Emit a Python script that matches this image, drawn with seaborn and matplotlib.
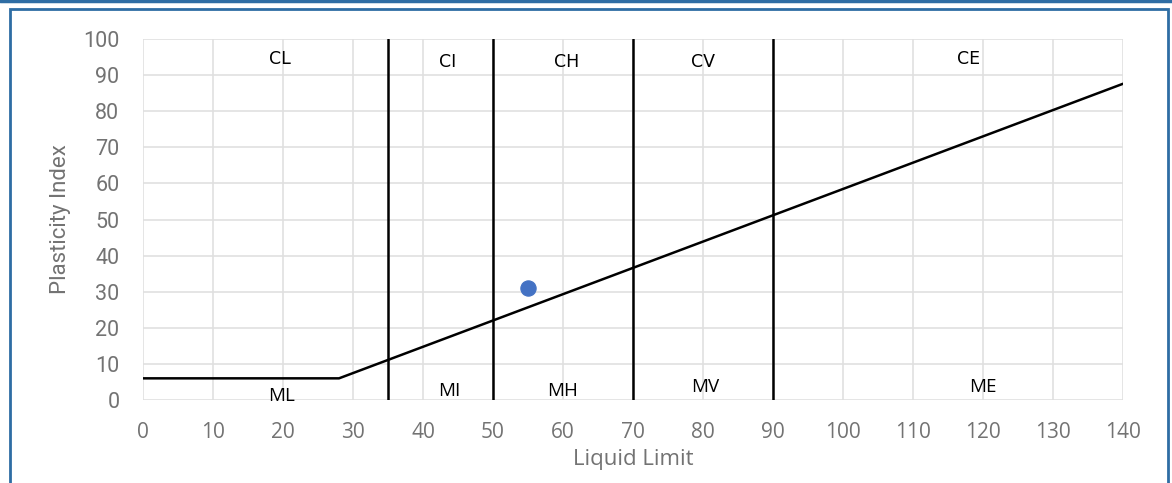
import numpy as np
import pandas as pd
import seaborn as sns
import matplotlib.pyplot as plt
from matplotlib.patches import Rectangle
from matplotlib.lines import Line2D

# A-line
a_line_ll = [0, 28, 140]
a_line_pi = [6, 6, 87.6]

# boundaries between low / intermediate / high / very high / extremely high
boundaries = [35, 50, 70, 90]

# sample point
sample_ll = [55]
sample_pi = [31]

# zone labels
upper_labels = ['CL', 'CI', 'CH', 'CV', 'CE']
upper_x = [19.5, 43.5, 60.5, 80, 118]
upper_y = [94.5, 93.5, 93.5, 93.5, 94.5]
lower_labels = ['ML', 'MI', 'MH', 'MV', 'ME']
lower_x = [19.8, 43.7, 60, 80.3, 120]
lower_y = [1.2, 2.5, 2.5, 3.5, 3.5]

sns.set_theme(style='whitegrid')
plt.rcParams['font.family'] = ['Open Sans', 'DejaVu Sans']

fig = plt.figure(figsize=(11.72, 4.83), dpi=100)
ax = fig.add_axes([143 / 1172, 1 - 400 / 483, 980 / 1172, 361 / 483])

line_df = pd.DataFrame({'LL': a_line_ll, 'PI': a_line_pi})
sns.lineplot(data=line_df, x='LL', y='PI', color='black', linewidth=1.8, ax=ax, sort=False)
for b in boundaries:
    ax.axvline(b, color='black', linewidth=1.8, ymin=0, ymax=1)
pt_df = pd.DataFrame({'LL': sample_ll, 'PI': sample_pi})
sns.scatterplot(data=pt_df, x='LL', y='PI', color='#4472C4', s=120, edgecolor='#4472C4', ax=ax, zorder=5)

for t, x, y in zip(upper_labels, upper_x, upper_y):
    ax.text(x, y, t, ha='center', va='center', fontsize=12.5, color='black',
            family=['Liberation Sans Narrow', 'DejaVu Sans Condensed', 'DejaVu Sans'])
for t, x, y in zip(lower_labels, lower_x, lower_y):
    ax.text(x, y, t, ha='center', va='center', fontsize=13.5, color='black',
            family=['Open Sans', 'DejaVu Sans'])

ax.set_xlim(0, 140)
ax.set_ylim(0, 100)
ax.set_xticks(np.arange(0, 141, 10))
ax.set_yticks(np.arange(0, 101, 10))
ax.grid(True, color='#e0e0e0', linewidth=1.2)
for s in ax.spines.values():
    s.set_visible(False)
gray = '#737373'
ax.tick_params(axis='x', colors=gray, labelsize=15, length=0, pad=16)
ax.tick_params(axis='y', colors=gray, labelsize=15.5, length=0, pad=17)
for lab in ax.get_yticklabels():
    lab.set_family(['Roboto', 'DejaVu Sans'])
ax.set_xlabel('Liquid Limit', fontsize=16, color=gray, labelpad=4)
ax.set_ylabel('Plasticity Index', fontsize=16, color=gray, labelpad=9,
              family=['Roboto', 'DejaVu Sans'])

# blue frame around the chart
fig.add_artist(Line2D([0, 1], [1 - 1 / 483, 1 - 1 / 483], transform=fig.transFigure,
                      color='#2E6DA4', linewidth=2.5))
fig.add_artist(Rectangle((10 / 1172, -0.05), 1158 / 1172, 1.05 - 9 / 483, transform=fig.transFigure,
                         fill=False, edgecolor='#2E6DA4', linewidth=2))

fig.savefig('out.png', dpi=100)
